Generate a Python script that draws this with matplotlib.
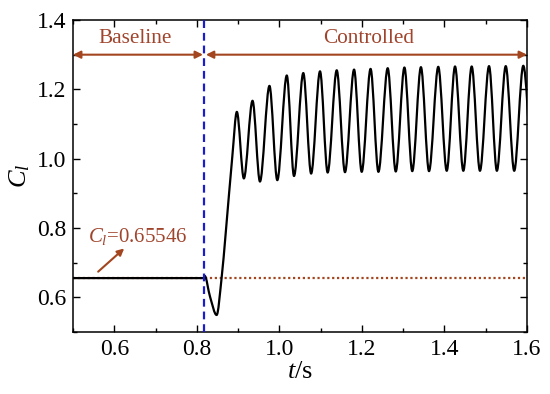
import numpy as np
import matplotlib
matplotlib.use("Agg")
import matplotlib.pyplot as plt
from matplotlib.path import Path
from matplotlib.patches import PathPatch

plt.rcParams['font.family'] = ['Liberation Serif', 'DejaVu Serif']
plt.rcParams['mathtext.fontset'] = 'custom'
plt.rcParams['mathtext.rm'] = 'Liberation Serif'
plt.rcParams['mathtext.it'] = 'Liberation Serif:italic'

# ---------------- data ----------------
cl_base = 0.65546           # baseline lift coefficient
t_ctrl = 0.817              # time when control starts

# key points of the lift-coefficient trace (time, C_l)
t_pre = [0.500, 0.817, 0.819, 0.832, 0.848, 0.860, 0.870, 0.886]
cl_pre = [0.65546, 0.65546, 0.662, 0.602, 0.549, 0.655, 0.785, 1.006]

t_peaks = [0.897, 0.935, 0.976, 1.018, 1.058, 1.0985, 1.139, 1.181, 1.221,
           1.2625, 1.303, 1.343, 1.385, 1.4256, 1.466, 1.508, 1.5485, 1.591]
cl_peaks = [1.135, 1.167, 1.210, 1.240, 1.247, 1.252, 1.255, 1.257, 1.259,
            1.261, 1.263, 1.264, 1.265, 1.266, 1.266, 1.267, 1.267, 1.268]
t_troughs = [0.914, 0.953, 0.995, 1.0355, 1.077, 1.117, 1.159, 1.1995, 1.240,
             1.282, 1.322, 1.3626, 1.4055, 1.4457, 1.486, 1.527, 1.569, 1.611]
cl_troughs = [0.943, 0.934, 0.938, 0.950, 0.957, 0.960, 0.961, 0.962, 0.962,
              0.963, 0.964, 0.964, 0.965, 0.965, 0.965, 0.965, 0.965, 0.966]

xlim = (0.5, 1.6)
ylim = (0.5, 1.4)
xticks = [0.6, 0.8, 1.0, 1.2, 1.4, 1.6]
yticks = [0.6, 0.8, 1.0, 1.2, 1.4]

arrow_y = 1.30
baseline_span = (0.5, 0.815)
controlled_span = (0.822, 1.6)
phase_labels = ['Baseline', 'Controlled']
phase_label_x = [0.650, 1.2156]
phase_label_y = 1.334

cl_text = r'$C_l$=0.65546'
cl_text_pos = (0.537, 0.761)
cl_arrow_tail = (0.561, 0.674)
cl_arrow_head = (0.624, 0.741)

# ---------------- build trace ----------------
t_osc = []
cl_osc = []
for tp, vp, tt, vt in zip(t_peaks, cl_peaks, t_troughs, cl_troughs):
    t_osc += [tp, tt]
    cl_osc += [vp, vt]
t_all = np.array(t_pre + t_osc)
cl_all = np.array(cl_pre + cl_osc)


def pchip_path(x, y):
    h = np.diff(x)
    d = np.diff(y) / h
    m = np.zeros_like(y)
    m[0] = d[0]
    m[-1] = d[-1]
    for k in range(1, len(x) - 1):
        if d[k - 1] * d[k] <= 0:
            m[k] = 0.0
        else:
            w1 = 2 * h[k] + h[k - 1]
            w2 = h[k] + 2 * h[k - 1]
            m[k] = (w1 + w2) / (w1 / d[k - 1] + w2 / d[k])
    verts = [(x[0], y[0])]
    codes = [Path.MOVETO]
    for k in range(len(x) - 1):
        verts += [(x[k] + h[k] / 3, y[k] + m[k] * h[k] / 3),
                  (x[k + 1] - h[k] / 3, y[k + 1] - m[k + 1] * h[k] / 3),
                  (x[k + 1], y[k + 1])]
        codes += [Path.CURVE4] * 3
    return Path(verts, codes)


# ---------------- figure ----------------
fig = plt.figure(figsize=(5.5, 3.94), dpi=100)
ax = fig.add_axes([0.1327, 0.1574, 0.8255, 0.7918])

brown = '#A3461F'
text_brown = '#A0452D'

ax.axhline(cl_base, color=brown, lw=1.6, ls=(0, (1, 1.2)), zorder=2)
ax.add_patch(PathPatch(pchip_path(t_all, cl_all), fill=False, lw=1.6,
                       color='black', zorder=3, capstyle='round',
                       joinstyle='round'))
ax.axvline(t_ctrl, color='#1C1CCF', lw=1.6, ls=(0, (3.5, 2.2)), zorder=4)

for (x0, x1) in (baseline_span, controlled_span):
    ax.annotate('', xy=(x0, arrow_y), xytext=(x1, arrow_y),
                arrowprops=dict(arrowstyle='<|-|>', color=brown, lw=1.5,
                                mutation_scale=11, shrinkA=0, shrinkB=0),
                annotation_clip=False)

for lab, lx in zip(phase_labels, phase_label_x):
    ax.text(lx, phase_label_y, lab, ha='center', va='baseline',
            fontsize=15.3, color=text_brown)

ax.text(cl_text_pos[0], cl_text_pos[1], cl_text, ha='left', va='baseline',
        fontsize=15, color=text_brown)
ax.annotate('', xy=cl_arrow_head, xytext=cl_arrow_tail,
            arrowprops=dict(arrowstyle='-|>', color=brown, lw=1.5,
                            mutation_scale=10, shrinkA=0, shrinkB=0))

ax.set_xlim(*xlim)
ax.set_ylim(*ylim)
ax.set_xticks(xticks)
ax.set_xticklabels([f'{v:.1f}' for v in xticks])
ax.set_yticks(yticks)
ax.set_yticklabels([f'{v:.1f}' for v in yticks])
ax.set_xticks(np.arange(0.5, 1.61, 0.1), minor=True)
ax.set_yticks(np.arange(0.5, 1.41, 0.1), minor=True)
ax.tick_params(which='both', direction='in', top=True, right=True,
               labelsize=17, pad=5)
ax.tick_params(which='major', length=5, width=1.0)
ax.tick_params(which='minor', length=3, width=1.0)
for s in ax.spines.values():
    s.set_linewidth(1.1)

ax.set_xlabel(r'$t$/s', fontsize=19, labelpad=1)
ax.set_ylabel(r'$C_l$', fontsize=19, labelpad=3)

fig.savefig('out.png', dpi=100)
